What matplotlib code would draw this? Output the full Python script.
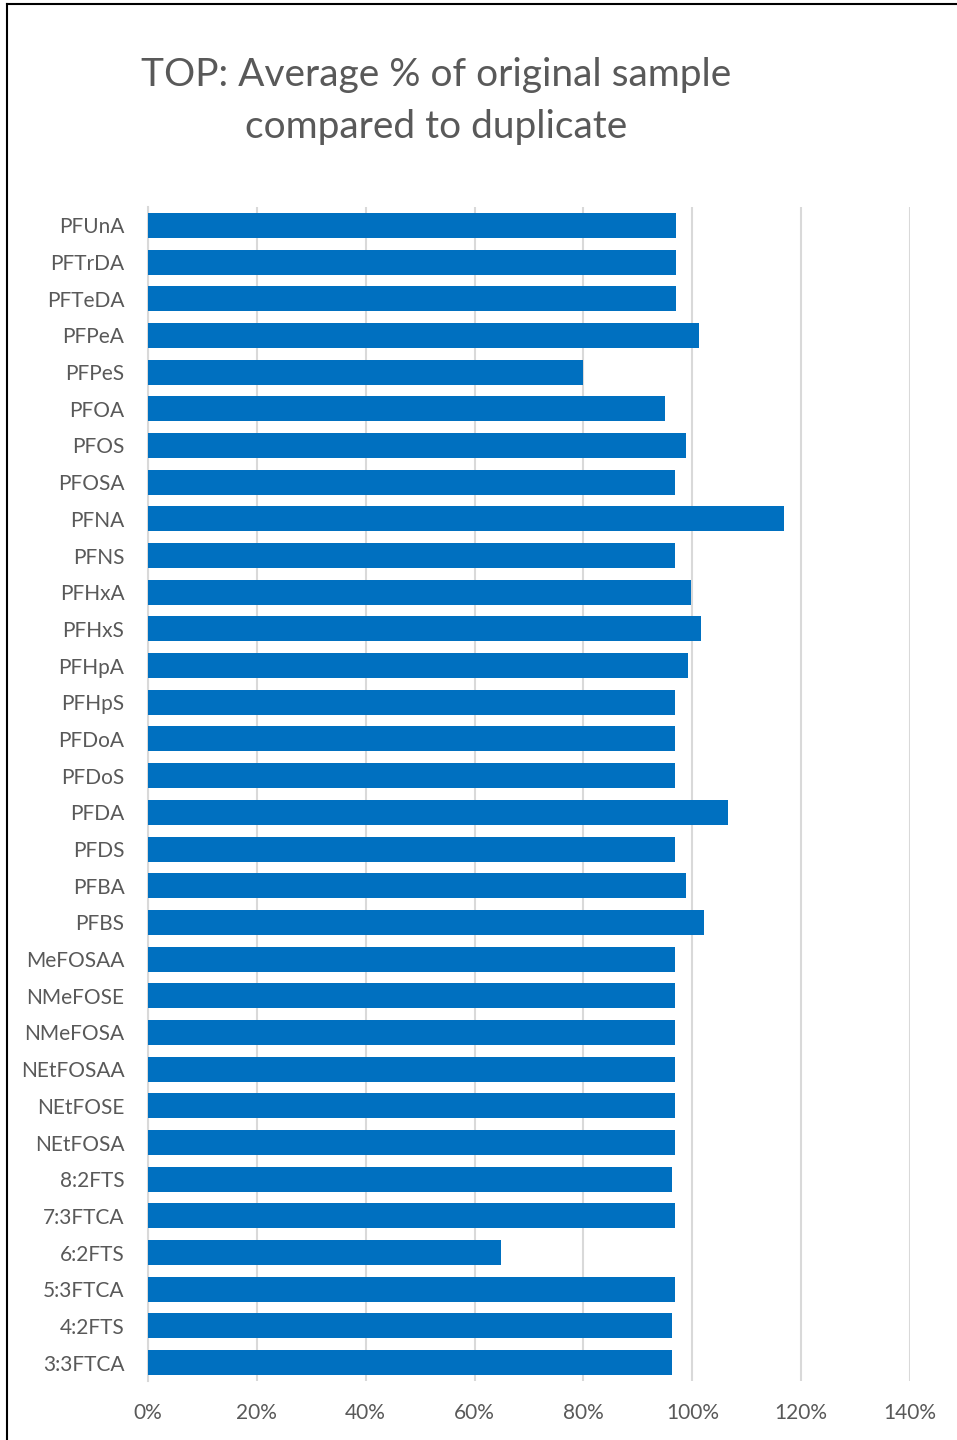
import matplotlib
matplotlib.use("Agg")
import matplotlib.pyplot as plt
from matplotlib.lines import Line2D
from matplotlib.ticker import FuncFormatter

plt.rcParams['font.family'] = ['Lato', 'DejaVu Sans']

# compounds listed top to bottom, with average % of original vs duplicate
compounds = ["PFUnA", "PFTrDA", "PFTeDA", "PFPeA", "PFPeS", "PFOA", "PFOS", "PFOSA",
             "PFNA", "PFNS", "PFHxA", "PFHxS", "PFHpA", "PFHpS", "PFDoA", "PFDoS",
             "PFDA", "PFDS", "PFBA", "PFBS", "MeFOSAA", "NMeFOSE", "NMeFOSA",
             "NEtFOSAA", "NEtFOSE", "NEtFOSA", "8:2FTS", "7:3FTCA", "6:2FTS",
             "5:3FTCA", "4:2FTS", "3:3FTCA"]
avg_pct = [0.970, 0.970, 0.970, 1.012, 0.799, 0.949, 0.989, 0.969,
           1.169, 0.969, 0.998, 1.016, 0.992, 0.969, 0.969, 0.969,
           1.066, 0.969, 0.988, 1.021, 0.969, 0.969, 0.968,
           0.969, 0.969, 0.968, 0.963, 0.968, 0.649,
           0.969, 0.963, 0.963]
xticks = [0, 0.2, 0.4, 0.6, 0.8, 1.0, 1.2, 1.4]

W, H = 957, 1440
fig = plt.figure(figsize=(W / 100, H / 100), dpi=100)
ax = fig.add_axes([148 / W, (H - 1381) / H, (910 - 148) / W, (1381 - 207) / H])

ypos = list(range(len(compounds)))
ax.barh(ypos, avg_pct, height=0.68, color="#0070C0", zorder=3)
ax.set_ylim(len(compounds) - 0.5, -0.5)
ax.set_xlim(0, 1.4)
ax.set_yticks(ypos)
ax.set_yticklabels(compounds)
ax.set_xticks(xticks)
ax.xaxis.set_major_formatter(FuncFormatter(lambda v, p: f"{v * 100:.0f}%"))

ax.grid(axis="x", color="#d9d9d9", linewidth=1.5, zorder=0)
for s in ["top", "right", "bottom"]:
    ax.spines[s].set_visible(False)
ax.spines["left"].set_color("#d9d9d9")
ax.spines["left"].set_linewidth(1.5)
ax.tick_params(axis="both", length=0, labelsize=15, labelcolor="#595959")
ax.tick_params(axis="y", pad=17)
ax.tick_params(axis="x", pad=16)

fig.text(436 / W, 1 - 101 / H, "TOP: Average % of original sample\ncompared to duplicate",
         ha="center", va="center", fontsize=28, color="#595959", linespacing=1.53)

# thin frame along the top and left edges
fig.add_artist(Line2D([7 / W, 1], [1 - 3.5 / H, 1 - 3.5 / H], color="black", linewidth=1.5,
                      transform=fig.transFigure))
fig.add_artist(Line2D([7.5 / W, 7.5 / W], [0, 1 - 3.5 / H], color="black", linewidth=1.5,
                      transform=fig.transFigure))

fig.savefig("out.png", dpi=100, facecolor="white")
